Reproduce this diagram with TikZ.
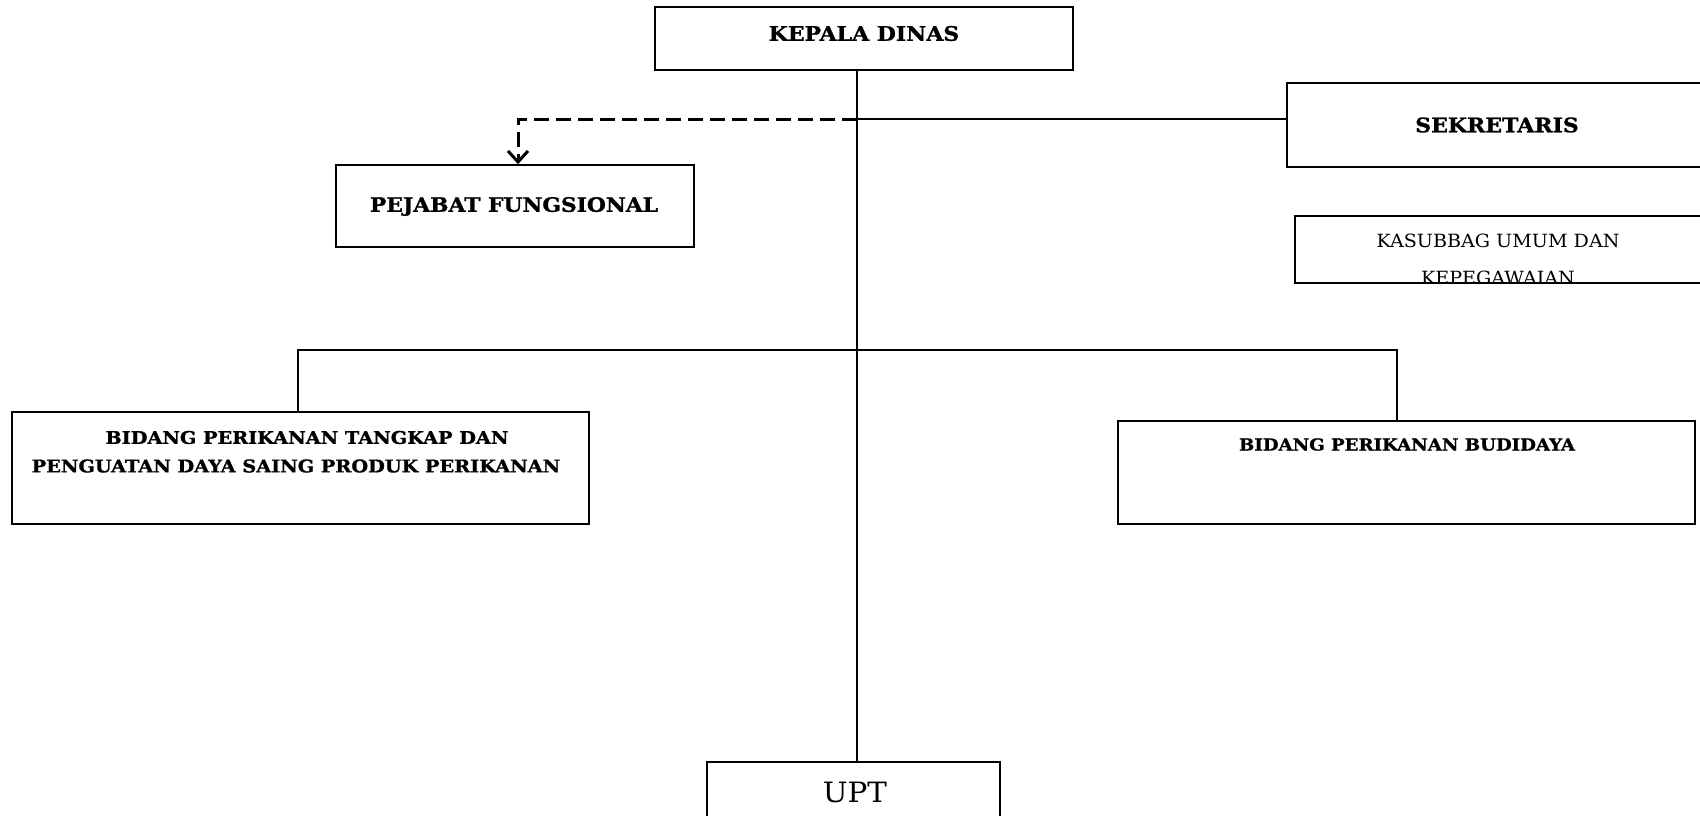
\documentclass[tikz,border=0pt]{standalone}
\usepackage{fontspec}
\usetikzlibrary{arrows.meta}
\setmainfont{DejaVu Serif}
\newfontfamily\bkb{DejaVu Serif Bold}[FakeStretch=1.1,FakeBold=1.2]
\newfontfamily\bkr{DejaVu Serif}[FakeStretch=1.05]
\begin{document}
\begin{tikzpicture}[x=1pt,y=-1pt,
  box/.style={draw, line width=1.6pt, inner sep=0pt},
  lbl/.style={inner sep=0pt, align=center},
  conn/.style={line width=1.6pt},
  dashconn/.style={line width=3pt, dash pattern=on 15pt off 7pt, -{Straight Barb[length=11pt,width=20pt,line width=3pt]}}]
\useasboundingbox (0,0) rectangle (1700,816);
\clip (0,0) rectangle (1700,816);
% boxes
\node[box, minimum width=418pt, minimum height=63pt] (kd) at (864,38.5) {};
\node[box, minimum width=358pt, minimum height=82pt] (pf) at (515,206) {};
\node[box, minimum width=420pt, minimum height=84pt] (sek) at (1497,125) {};
\node[box, minimum width=412pt, minimum height=67pt] (kas) at (1501,249.5) {};
\node[box, minimum width=577pt, minimum height=112pt] (bl) at (300.5,468) {};
\node[box, minimum width=577pt, minimum height=103pt] (br) at (1406.5,472.5) {};
\node[box, minimum width=293pt, minimum height=100pt] (upt) at (853.5,812) {};
% texts
\node[lbl, font=\bkb\fontsize{20}{24}\selectfont] (tkd) at (864,33.5) {KEPALA DINAS};
\node[lbl, font=\bkb\fontsize{19.8}{24}\selectfont] (tpf) at (514,206.5) {PEJABAT FUNGSIONAL};
\node[lbl, font=\bkb\fontsize{20}{24}\selectfont] (tsek) at (1497,125) {SEKRETARIS};
\begin{scope}
\clip (kas.north west) rectangle (kas.south east);
\node[lbl, font=\bkr\fontsize{18.2}{21}\selectfont, anchor=base] (tkas1) at (1498,247) {KASUBBAG UMUM DAN};
\node[lbl, font=\bkr\fontsize{18.2}{21}\selectfont, anchor=base] (tkas2) at (1498,284) {KEPEGAWAIAN};
\end{scope}
\node[lbl, font=\bkb\fontsize{17.5}{21}\selectfont] (tbl1) at (307,437.5) {BIDANG PERIKANAN TANGKAP DAN};
\node[lbl, font=\bkb\fontsize{17.5}{21}\selectfont] (tbl2) at (296,466) {PENGUATAN DAYA SAING PRODUK PERIKANAN};
\node[lbl, font=\bkb\fontsize{16.5}{21}\selectfont] (tbr) at (1407,444.5) {BIDANG PERIKANAN BUDIDAYA};
\node[lbl, font=\bkr\fontsize{28}{32}\selectfont] (tupt) at (855,792) {UPT};
% connectors
\coordinate (j1) at (857,119);
\coordinate (j2) at (857,350);
\coordinate (pfa) at (518,0);
\coordinate (bla) at (298,0);
\coordinate (bra) at (1397,0);
\draw[conn] (kd.south -| j1) -- (upt.north -| j1);
\draw[conn] (j1) -- (sek.west |- j1);
\draw[dashconn] (j1) -| (pf.north -| pfa);
\draw[conn] (bl.north -| bla) |- (j2) -| (br.north -| bra);
\end{tikzpicture}
\end{document}
